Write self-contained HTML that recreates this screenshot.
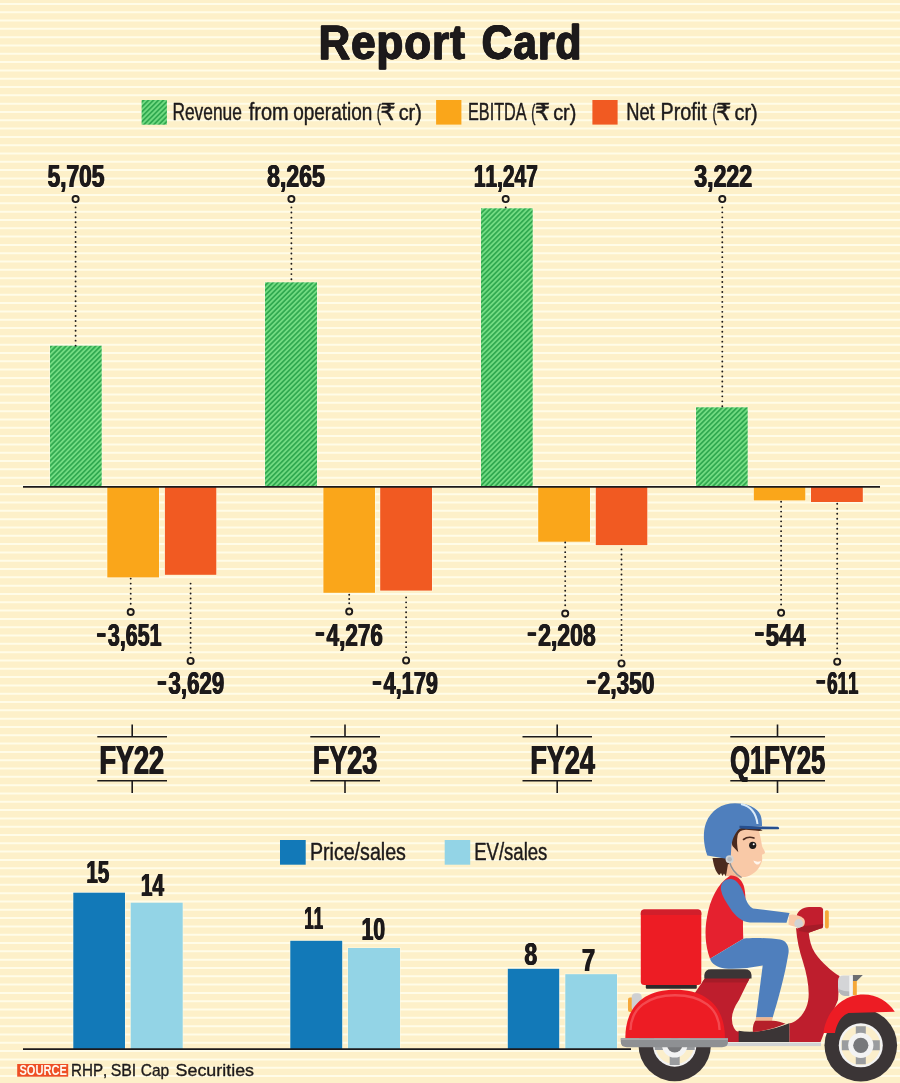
<!DOCTYPE html>
<html lang="en"><head><meta charset="utf-8"><title>Report Card</title>
<style>
html,body{margin:0;padding:0;background:#fdf0c9;}
body{width:900px;height:1083px;overflow:hidden;}
.h{stroke:#fffbe6;stroke-width:1.4;stroke-opacity:.7;paint-order:stroke;}
svg{display:block;font-family:"Liberation Sans",sans-serif;font-weight:bold;font-kerning:none;font-variant-ligatures:none;}
</style></head><body>
<svg width="900" height="1083" viewBox="0 0 900 1083">
<defs>
<pattern id="hatch" width="3.5" height="3.5" patternUnits="userSpaceOnUse" patternTransform="rotate(-45)">
<rect width="3.5" height="3.5" fill="#72db82"/><rect width="3.5" height="1.75" fill="#32aa51"/>
</pattern>
</defs>
<rect width="900" height="1083" fill="#fdf0c9"/>
<path d="M0 3.90H900M0 12.21H900M0 20.52H900M0 28.83H900M0 37.14H900M0 45.45H900M0 53.77H900M0 62.08H900M0 70.39H900M0 78.70H900M0 87.01H900M0 95.32H900M0 103.63H900M0 111.94H900M0 120.25H900M0 128.57H900M0 136.88H900M0 145.19H900M0 153.50H900M0 161.81H900M0 170.12H900M0 178.43H900M0 186.74H900M0 195.05H900M0 203.36H900M0 211.68H900M0 219.99H900M0 228.30H900M0 236.61H900M0 244.92H900M0 253.23H900M0 261.54H900M0 269.85H900M0 278.16H900M0 286.47H900M0 294.79H900M0 303.10H900M0 311.41H900M0 319.72H900M0 328.03H900M0 336.34H900M0 344.65H900M0 352.96H900M0 361.27H900M0 369.58H900M0 377.89H900M0 386.21H900M0 394.52H900M0 402.83H900M0 411.14H900M0 419.45H900M0 427.76H900M0 436.07H900M0 444.38H900M0 452.69H900M0 461.00H900M0 469.32H900M0 477.63H900M0 485.94H900M0 494.25H900M0 502.56H900M0 510.87H900M0 519.18H900M0 527.49H900M0 535.80H900M0 544.11H900M0 552.43H900M0 560.74H900M0 569.05H900M0 577.36H900M0 585.67H900M0 593.98H900M0 602.29H900M0 610.60H900M0 618.91H900M0 627.23H900M0 635.54H900M0 643.85H900M0 652.16H900M0 660.47H900M0 668.78H900M0 677.09H900M0 685.40H900M0 693.71H900M0 702.02H900M0 710.34H900M0 718.65H900M0 726.96H900M0 735.27H900M0 743.58H900M0 751.89H900M0 760.20H900M0 768.51H900M0 776.82H900M0 785.13H900M0 793.45H900M0 801.76H900M0 810.07H900M0 818.38H900M0 826.69H900M0 835.00H900M0 843.31H900M0 851.62H900M0 859.93H900M0 868.24H900M0 876.56H900M0 884.87H900M0 893.18H900M0 901.49H900M0 909.80H900M0 918.11H900M0 926.42H900M0 934.73H900M0 943.04H900M0 951.35H900M0 959.67H900M0 967.98H900M0 976.29H900M0 984.60H900M0 992.91H900M0 1001.22H900M0 1009.53H900M0 1017.84H900M0 1026.15H900M0 1034.46H900M0 1042.78H900M0 1051.09H900M0 1059.40H900M0 1067.71H900M0 1076.02H900M0 1084.33H900" stroke="#fffce8" stroke-width="2" fill="none"/>
<text y="59.4" font-size="47.5" letter-spacing="1.2" fill="#1d1a1b" stroke="#1d1a1b" stroke-width="0.8" stroke-linejoin="round" style="text-shadow:0.5px 0 0 #1d1a1b,-0.5px 0 0 #1d1a1b"><tspan x="318.61" textLength="147.20" lengthAdjust="spacingAndGlyphs">Report</tspan> <tspan x="481.77" textLength="100.59" lengthAdjust="spacingAndGlyphs">Card</tspan></text>
<rect x="141.6" y="100" width="25.3" height="24.7" fill="url(#hatch)"/>
<rect x="436.1" y="100" width="25.3" height="24.6" fill="#faa61a"/>
<rect x="592.4" y="100" width="25.2" height="24.6" fill="#f15a22"/>
<text y="120.2" font-size="23" font-weight="normal" fill="#1d1a1b" stroke="#1d1a1b" stroke-width="0.45" stroke-linejoin="round"><tspan x="172.45" textLength="69.45" lengthAdjust="spacingAndGlyphs">Revenue</tspan> <tspan x="248.71" textLength="39.91" lengthAdjust="spacingAndGlyphs">from</tspan> <tspan x="293.19" textLength="79.16" lengthAdjust="spacingAndGlyphs">operation</tspan> <tspan x="376.65" textLength="4.19" lengthAdjust="spacingAndGlyphs" font-size="21.5">(</tspan><tspan x="380.18" textLength="15.41" lengthAdjust="spacingAndGlyphs" font-size="23.2" font-family="DejaVu Sans, sans-serif">₹</tspan> <tspan x="398.66" textLength="23.16" lengthAdjust="spacingAndGlyphs" font-size="21.5">cr)</tspan></text>
<text y="120.2" font-size="23" font-weight="normal" fill="#1d1a1b" stroke="#1d1a1b" stroke-width="0.45" stroke-linejoin="round"><tspan x="468.03" textLength="58.54" lengthAdjust="spacingAndGlyphs">EBITDA</tspan> <tspan x="531.15" textLength="4.19" lengthAdjust="spacingAndGlyphs" font-size="21.5">(</tspan><tspan x="534.68" textLength="15.41" lengthAdjust="spacingAndGlyphs" font-size="23.2" font-family="DejaVu Sans, sans-serif">₹</tspan> <tspan x="553.16" textLength="23.16" lengthAdjust="spacingAndGlyphs" font-size="21.5">cr)</tspan></text>
<text y="120.2" font-size="23" font-weight="normal" fill="#1d1a1b" stroke="#1d1a1b" stroke-width="0.45" stroke-linejoin="round"><tspan x="626.18" textLength="28.48" lengthAdjust="spacingAndGlyphs">Net</tspan> <tspan x="660.57" textLength="46.08" lengthAdjust="spacingAndGlyphs">Profit</tspan> <tspan x="712.55" textLength="4.19" lengthAdjust="spacingAndGlyphs" font-size="21.5">(</tspan><tspan x="716.08" textLength="15.41" lengthAdjust="spacingAndGlyphs" font-size="23.2" font-family="DejaVu Sans, sans-serif">₹</tspan> <tspan x="734.56" textLength="23.16" lengthAdjust="spacingAndGlyphs" font-size="21.5">cr)</tspan></text>
<rect x="50" y="345.7" width="51.7" height="140.8" fill="url(#hatch)" class="h"/>
<rect x="265" y="282.3" width="52.0" height="204.2" fill="url(#hatch)" class="h"/>
<rect x="481" y="208.3" width="51.7" height="278.2" fill="url(#hatch)" class="h"/>
<rect x="696" y="407.3" width="51.7" height="79.2" fill="url(#hatch)" class="h"/>
<rect x="107.3" y="486.5" width="51.7" height="90.9" fill="#faa61a" class="h"/>
<rect x="323.4" y="486.5" width="51.6" height="106.3" fill="#faa61a" class="h"/>
<rect x="538.2" y="486.5" width="51.8" height="55.2" fill="#faa61a" class="h"/>
<rect x="753.8" y="486.5" width="51.5" height="13.9" fill="#faa61a" class="h"/>
<rect x="164.9" y="486.5" width="51.4" height="88.3" fill="#f15a22" class="h"/>
<rect x="380.2" y="486.5" width="51.8" height="104.1" fill="#f15a22" class="h"/>
<rect x="595.8" y="486.5" width="51.5" height="58.6" fill="#f15a22" class="h"/>
<rect x="811" y="486.5" width="51.8" height="15.5" fill="#f15a22" class="h"/>
<path d="M23 486.8H880" stroke="#1d1a1b" stroke-width="1.8"/>
<path d="M75.6 207.4V345.65" stroke="#1d1a1b" stroke-width="1.9" stroke-linecap="round" stroke-dasharray="0 4.936" fill="none"/>
<circle cx="75.6" cy="199.1" r="3.05" fill="#fdf0c9" stroke="#1d1a1b" stroke-width="1.9"/>
<text x="47.57" y="187.3" font-size="31.8" textLength="56.80" lengthAdjust="spacingAndGlyphs" fill="#1d1a1b" stroke="#1d1a1b" stroke-width="0.2" stroke-linejoin="round" style="text-shadow:0.55px 0 0 #1d1a1b,-0.55px 0 0 #1d1a1b">5,705</text>
<path d="M291.4 207.4V279.25" stroke="#1d1a1b" stroke-width="1.9" stroke-linecap="round" stroke-dasharray="0 5.129" fill="none"/>
<circle cx="291.4" cy="199.1" r="3.05" fill="#fdf0c9" stroke="#1d1a1b" stroke-width="1.9"/>
<text x="267.04" y="187.3" font-size="31.8" textLength="57.83" lengthAdjust="spacingAndGlyphs" fill="#1d1a1b" stroke="#1d1a1b" stroke-width="0.2" stroke-linejoin="round" style="text-shadow:0.55px 0 0 #1d1a1b,-0.55px 0 0 #1d1a1b">8,265</text>
<path d="M505.7 207.4V207.35" stroke="#1d1a1b" stroke-width="1.9" stroke-linecap="round" stroke-dasharray="0 5.000" fill="none"/>
<circle cx="505.7" cy="199.1" r="3.05" fill="#fdf0c9" stroke="#1d1a1b" stroke-width="1.9"/>
<text x="473.81" y="187.3" font-size="31.8" textLength="63.98" lengthAdjust="spacingAndGlyphs" fill="#1d1a1b" stroke="#1d1a1b" stroke-width="0.2" stroke-linejoin="round" style="text-shadow:0.55px 0 0 #1d1a1b,-0.55px 0 0 #1d1a1b">11,247</text>
<path d="M722.3 207.4V406.35" stroke="#1d1a1b" stroke-width="1.9" stroke-linecap="round" stroke-dasharray="0 4.973" fill="none"/>
<circle cx="722.3" cy="199.1" r="3.05" fill="#fdf0c9" stroke="#1d1a1b" stroke-width="1.9"/>
<text x="694.24" y="187.3" font-size="31.8" textLength="57.91" lengthAdjust="spacingAndGlyphs" fill="#1d1a1b" stroke="#1d1a1b" stroke-width="0.2" stroke-linejoin="round" style="text-shadow:0.55px 0 0 #1d1a1b,-0.55px 0 0 #1d1a1b">3,222</text>
<path d="M130.7 603.7V578.55" stroke="#1d1a1b" stroke-width="1.9" stroke-linecap="round" stroke-dasharray="0 5.020" fill="none"/>
<circle cx="130.7" cy="612" r="3.05" fill="#fdf0c9" stroke="#1d1a1b" stroke-width="1.9"/>
<text x="97.40" y="645.8" font-size="31.8" textLength="64.16" lengthAdjust="spacingAndGlyphs" fill="#1d1a1b" stroke="#1d1a1b" stroke-width="0.2" stroke-linejoin="round" style="text-shadow:0.55px 0 0 #1d1a1b,-0.55px 0 0 #1d1a1b"><tspan stroke-width="1.34" stroke-linejoin="miter" font-size="20.81" dy="-5.92">–</tspan><tspan dx="3.9" dy="5.92">3,651</tspan></text>
<path d="M349.2 603.3000000000001V594.75" stroke="#1d1a1b" stroke-width="1.9" stroke-linecap="round" stroke-dasharray="0 4.250" fill="none"/>
<circle cx="349.2" cy="611.6" r="3.05" fill="#fdf0c9" stroke="#1d1a1b" stroke-width="1.9"/>
<text x="316.10" y="645.8" font-size="31.8" textLength="66.75" lengthAdjust="spacingAndGlyphs" fill="#1d1a1b" stroke="#1d1a1b" stroke-width="0.2" stroke-linejoin="round" style="text-shadow:0.55px 0 0 #1d1a1b,-0.55px 0 0 #1d1a1b"><tspan stroke-width="1.48" stroke-linejoin="miter" font-size="19.37" dy="-6.31">–</tspan><tspan dx="4.11" dy="6.31">4,276</tspan></text>
<path d="M565.2 605.2V542.45" stroke="#1d1a1b" stroke-width="1.9" stroke-linecap="round" stroke-dasharray="0 4.823" fill="none"/>
<circle cx="565.2" cy="613.5" r="3.05" fill="#fdf0c9" stroke="#1d1a1b" stroke-width="1.9"/>
<text x="528.15" y="645.8" font-size="31.8" textLength="67.59" lengthAdjust="spacingAndGlyphs" fill="#1d1a1b" stroke="#1d1a1b" stroke-width="0.2" stroke-linejoin="round" style="text-shadow:0.55px 0 0 #1d1a1b,-0.55px 0 0 #1d1a1b"><tspan stroke-width="1.55" stroke-linejoin="miter" font-size="18.66" dy="-6.5">–</tspan><tspan dx="3.48" dy="6.5">2,208</tspan></text>
<path d="M781.1 604.5V501.75" stroke="#1d1a1b" stroke-width="1.9" stroke-linecap="round" stroke-dasharray="0 4.890" fill="none"/>
<circle cx="781.1" cy="612.8" r="3.05" fill="#fdf0c9" stroke="#1d1a1b" stroke-width="1.9"/>
<text x="755.74" y="645.8" font-size="31.8" textLength="49.90" lengthAdjust="spacingAndGlyphs" fill="#1d1a1b" stroke="#1d1a1b" stroke-width="0.2" stroke-linejoin="round" style="text-shadow:0.55px 0 0 #1d1a1b,-0.55px 0 0 #1d1a1b"><tspan stroke-width="1.67" stroke-linejoin="miter" font-size="17.52" dy="-6.8">–</tspan><tspan dx="3.57" dy="6.8">544</tspan></text>
<path d="M190.6 652.6V583.55" stroke="#1d1a1b" stroke-width="1.9" stroke-linecap="round" stroke-dasharray="0 4.929" fill="none"/>
<circle cx="190.6" cy="660.9" r="3.05" fill="#fdf0c9" stroke="#1d1a1b" stroke-width="1.9"/>
<text x="158.09" y="693.8" font-size="31.8" textLength="66.19" lengthAdjust="spacingAndGlyphs" fill="#1d1a1b" stroke="#1d1a1b" stroke-width="0.2" stroke-linejoin="round" style="text-shadow:0.55px 0 0 #1d1a1b,-0.55px 0 0 #1d1a1b"><tspan stroke-width="1.46" stroke-linejoin="miter" font-size="19.59" dy="-6.25">–</tspan><tspan dx="3.87" dy="6.25">3,629</tspan></text>
<path d="M406.1 652.1V597.35" stroke="#1d1a1b" stroke-width="1.9" stroke-linecap="round" stroke-dasharray="0 4.973" fill="none"/>
<circle cx="406.1" cy="660.4" r="3.05" fill="#fdf0c9" stroke="#1d1a1b" stroke-width="1.9"/>
<text x="373.02" y="693.8" font-size="31.8" textLength="64.94" lengthAdjust="spacingAndGlyphs" fill="#1d1a1b" stroke="#1d1a1b" stroke-width="0.2" stroke-linejoin="round" style="text-shadow:0.55px 0 0 #1d1a1b,-0.55px 0 0 #1d1a1b"><tspan stroke-width="1.38" stroke-linejoin="miter" font-size="20.44" dy="-6.02">–</tspan><tspan dx="4.14" dy="6.02">4,179</tspan></text>
<path d="M621.5 655.1V549.35" stroke="#1d1a1b" stroke-width="1.9" stroke-linecap="round" stroke-dasharray="0 5.033" fill="none"/>
<circle cx="621.5" cy="663.4" r="3.05" fill="#fdf0c9" stroke="#1d1a1b" stroke-width="1.9"/>
<text x="587.62" y="693.8" font-size="31.8" textLength="66.85" lengthAdjust="spacingAndGlyphs" fill="#1d1a1b" stroke="#1d1a1b" stroke-width="0.2" stroke-linejoin="round" style="text-shadow:0.55px 0 0 #1d1a1b,-0.55px 0 0 #1d1a1b"><tspan stroke-width="1.51" stroke-linejoin="miter" font-size="19.07" dy="-6.39">–</tspan><tspan dx="3.49" dy="6.39">2,350</tspan></text>
<path d="M837.2 653.4000000000001V503.75" stroke="#1d1a1b" stroke-width="1.9" stroke-linecap="round" stroke-dasharray="0 4.987" fill="none"/>
<circle cx="837.2" cy="661.7" r="3.05" fill="#fdf0c9" stroke="#1d1a1b" stroke-width="1.9"/>
<text x="816.64" y="693.8" font-size="31.8" textLength="41.80" lengthAdjust="spacingAndGlyphs" fill="#1d1a1b" stroke="#1d1a1b" stroke-width="0.2" stroke-linejoin="round" style="text-shadow:0.55px 0 0 #1d1a1b,-0.55px 0 0 #1d1a1b"><tspan stroke-width="0.89" stroke-linejoin="miter" font-size="25.4" dy="-4.69">–</tspan><tspan dx="3.58" dy="4.69">611</tspan></text>
<path d="M97.3 736.8H167M97.3 780.8H167M132.2 724.5V736.7M132.2 780.7V793" stroke="#1d1a1b" stroke-width="1.6" fill="none"/>
<text x="99.49" y="774.1" font-size="41" textLength="64.60" lengthAdjust="spacingAndGlyphs" fill="#1d1a1b" stroke="#1d1a1b" stroke-width="0.2" stroke-linejoin="round" style="text-shadow:0.65px 0 0 #1d1a1b,-0.65px 0 0 #1d1a1b">FY22</text>
<path d="M310.3 736.8H380M310.3 780.8H380M345 724.5V736.7M345 780.7V793" stroke="#1d1a1b" stroke-width="1.6" fill="none"/>
<text x="312.89" y="774.1" font-size="41" textLength="64.29" lengthAdjust="spacingAndGlyphs" fill="#1d1a1b" stroke="#1d1a1b" stroke-width="0.2" stroke-linejoin="round" style="text-shadow:0.65px 0 0 #1d1a1b,-0.65px 0 0 #1d1a1b">FY23</text>
<path d="M522.5 736.8H592M522.5 780.8H592M557.2 724.5V736.7M557.2 780.7V793" stroke="#1d1a1b" stroke-width="1.6" fill="none"/>
<text x="530.39" y="774.1" font-size="41" textLength="64.56" lengthAdjust="spacingAndGlyphs" fill="#1d1a1b" stroke="#1d1a1b" stroke-width="0.2" stroke-linejoin="round" style="text-shadow:0.65px 0 0 #1d1a1b,-0.65px 0 0 #1d1a1b">FY24</text>
<path d="M730.3 736.8H825M730.3 780.8H825M777.5 724.5V736.7M777.5 780.7V793" stroke="#1d1a1b" stroke-width="1.6" fill="none"/>
<text x="730.22" y="774.1" font-size="41" textLength="95.02" lengthAdjust="spacingAndGlyphs" fill="#1d1a1b" stroke="#1d1a1b" stroke-width="0.2" stroke-linejoin="round" style="text-shadow:0.65px 0 0 #1d1a1b,-0.65px 0 0 #1d1a1b">Q1FY25</text>
<rect x="280" y="840" width="25.7" height="24.7" fill="#1279b8"/>
<rect x="444.7" y="840" width="25.5" height="24.7" fill="#93d4e6"/>
<text x="309.88" y="860.2" font-size="23" font-weight="normal" textLength="96.04" lengthAdjust="spacingAndGlyphs" fill="#1d1a1b" stroke="#1d1a1b" stroke-width="0.45" stroke-linejoin="round">Price/sales</text>
<text x="474.16" y="860.2" font-size="23" font-weight="normal" textLength="73.23" lengthAdjust="spacingAndGlyphs" fill="#1d1a1b" stroke="#1d1a1b" stroke-width="0.45" stroke-linejoin="round">EV/sales</text>
<rect x="73.3" y="892.7" width="51.7" height="156.3" fill="#1279b8" class="h"/>
<rect x="130.7" y="902.7" width="52.0" height="146.3" fill="#93d4e6" class="h"/>
<rect x="290.3" y="940.8" width="51.9" height="108.2" fill="#1279b8" class="h"/>
<rect x="348" y="948" width="52.0" height="101.0" fill="#93d4e6" class="h"/>
<rect x="507.8" y="968.8" width="51.4" height="80.2" fill="#1279b8" class="h"/>
<rect x="565.3" y="974.2" width="51.7" height="74.8" fill="#93d4e6" class="h"/>
<path d="M23 1049.2H631" stroke="#1d1a1b" stroke-width="1.8"/>
<text x="86.43" y="882.7" font-size="31.8" textLength="22.72" lengthAdjust="spacingAndGlyphs" fill="#1d1a1b" stroke="#1d1a1b" stroke-width="0.2" stroke-linejoin="round" style="text-shadow:0.55px 0 0 #1d1a1b,-0.55px 0 0 #1d1a1b">15</text>
<text x="140.81" y="896" font-size="31.8" textLength="23.17" lengthAdjust="spacingAndGlyphs" fill="#1d1a1b" stroke="#1d1a1b" stroke-width="0.2" stroke-linejoin="round" style="text-shadow:0.55px 0 0 #1d1a1b,-0.55px 0 0 #1d1a1b">14</text>
<text x="304.28" y="929.2" font-size="31.8" textLength="18.85" lengthAdjust="spacingAndGlyphs" fill="#1d1a1b" stroke="#1d1a1b" stroke-width="0.2" stroke-linejoin="round" style="text-shadow:0.55px 0 0 #1d1a1b,-0.55px 0 0 #1d1a1b">11</text>
<text x="361.60" y="939.7" font-size="31.8" textLength="23.54" lengthAdjust="spacingAndGlyphs" fill="#1d1a1b" stroke="#1d1a1b" stroke-width="0.2" stroke-linejoin="round" style="text-shadow:0.55px 0 0 #1d1a1b,-0.55px 0 0 #1d1a1b">10</text>
<text x="524.44" y="965" font-size="31.8" textLength="12.80" lengthAdjust="spacingAndGlyphs" fill="#1d1a1b" stroke="#1d1a1b" stroke-width="0.2" stroke-linejoin="round" style="text-shadow:0.55px 0 0 #1d1a1b,-0.55px 0 0 #1d1a1b">8</text>
<text x="581.97" y="970.8" font-size="31.8" textLength="13.08" lengthAdjust="spacingAndGlyphs" fill="#1d1a1b" stroke="#1d1a1b" stroke-width="0.2" stroke-linejoin="round" style="text-shadow:0.55px 0 0 #1d1a1b,-0.55px 0 0 #1d1a1b">7</text>
<rect x="17.2" y="1064" width="51" height="12.7" fill="#ee5025"/>
<text x="19.48" y="1074.9" font-size="13.8" textLength="47.35" lengthAdjust="spacingAndGlyphs" fill="#fffaf0">SOURCE</text>
<text y="1075.6" font-size="17.2" font-weight="normal" fill="#1d1a1b" stroke="#1d1a1b" stroke-width="0.35" stroke-linejoin="round"><tspan x="71.01" textLength="36.30" lengthAdjust="spacingAndGlyphs">RHP,</tspan> <tspan x="110.64" textLength="25.67" lengthAdjust="spacingAndGlyphs">SBI</tspan> <tspan x="140.67" textLength="28.53" lengthAdjust="spacingAndGlyphs">Cap</tspan> <tspan x="175.57" textLength="78.49" lengthAdjust="spacingAndGlyphs">Securities</tspan></text>
<g id="scooter">
<!-- wheels -->
<g id="rear-wheel">
<circle cx="674.7" cy="1045" r="36.2" fill="#3b3536"/>
<circle cx="674.7" cy="1045" r="21.7" fill="#f3f3f3"/>
<circle cx="674.7" cy="1045" r="19.3" fill="#fbeecb"/>
<path d="M669.7 1045v20h10v-20zM654.7 1040v10h40v-10z" fill="#9a9c9f"/>
<circle cx="674.7" cy="1045" r="12.6" fill="#f3f3f3"/>
<circle cx="674.7" cy="1045" r="7.6" fill="#77787b"/>
</g>
<g id="front-wheel">
<circle cx="860.8" cy="1045.3" r="36.3" fill="#3b3536"/>
<circle cx="860.8" cy="1045.3" r="22" fill="#f3f3f3"/>
<circle cx="860.8" cy="1045.3" r="19.6" fill="#fbeecb"/>
<path d="M855.8 1026.3h10v38h-10zM841.8 1040.3h38v10h-38z" fill="#9a9c9f"/>
<circle cx="860.8" cy="1045.3" r="12.6" fill="#f3f3f3"/>
<circle cx="860.8" cy="1045.3" r="7.6" fill="#77787b"/>
</g>
<!-- tail light -->
<rect x="628" y="997.5" width="6" height="14.5" rx="2" fill="#f5a83a"/>
<rect x="631.7" y="993.3" width="10" height="18" rx="4" fill="#cfd0d2"/>
<!-- gray under strip -->
<rect x="726" y="1042.5" width="95" height="3.6" fill="#d1d3d4"/>
<!-- body -->
<path d="M705.5 977.5H750L739 1000Q728 1016 734 1028Q737 1033 739 1031V1042H690V1000Z" fill="#be1e2d"/>
<path d="M705.5 977.5H750L747.6 982.5H702Z" fill="#a51c28"/>
<!-- front column -->
<path d="M796 928C797 940 799 950 803 962C806.5 973 808.7 984 808.7 994C808.7 1004 805 1013 798 1019C794 1022.5 791 1023.5 789.3 1023.3V1042H820.5L824 1033L838 1000L839.5 976C832 971.5 822 963 815 953C811 947 809.5 940 808.7 932.5Z" fill="#be1e2d"/>
<!-- handlebar head -->
<path d="M796.5 916C798 910.5 803 907 809 907H819.5Q823.3 907 823.3 911V925Q823.3 928 820.5 928.6L808.7 932.8L798 931Z" fill="#c21e2e"/>
<path d="M800 926.5L823.3 924V925.5Q823.3 928 820.5 928.6L808.7 932.8L799 931Z" fill="#a51c28"/>
<rect x="823.3" y="910" width="2" height="18.4" fill="#f7f3ea"/>
<rect x="824.9" y="910.2" width="3.9" height="18.2" rx="1.6" fill="#f5a83a"/>
<!-- front lamp -->
<path d="M852.7 975H862.8L856.8 981H852.7Z" fill="#6d6e71"/>
<rect x="852.5" y="981" width="4.3" height="14" fill="#f5a83a"/>
<path d="M843.5 975.5H852.7V996H845Q838 995 838 987V981Q838 975.5 843.5 975.5Z" fill="#d4d5d7"/>
<path d="M838.3 989Q845 992 852.7 991.5V996H845Q839 995 838.3 989Z" fill="#b5b7ba"/>
<rect x="849.3" y="975.5" width="3.4" height="20.5" fill="#f4f4f4"/>
<!-- front fender -->
<path d="M823.3 1033C826 1012 842 994.5 863.5 994.5C877 994.5 888 1001.5 894.8 1011.8L848.5 1013C841 1016 836.5 1024 835 1033Z" fill="#ed1c24"/>
<!-- floor board -->
<path d="M738.7 1030.7C755 1034 775 1029 789.3 1023.3V1042H738.7Z" fill="#3b3536"/>
<!-- rear dome -->
<path d="M625.3 1038.5C625.3 1006 644 989.7 675 989.7C707 989.7 725 1007 725 1038.5Z" fill="#ed1c24"/>
<path d="M630.5 1030C631 1008 648 995.3 675 995.3C702 995.3 719 1008 719.6 1030" fill="none" stroke="#f5585e" stroke-width="2.4" stroke-opacity=".75"/>
<!-- bumper -->
<path d="M620.8 1038.3H728V1042Q728 1047.2 722 1047.2H627Q620.8 1047.2 620.8 1042Z" fill="#8e9093"/>
<path d="M620.8 1038.3H728V1040H620.8Z" fill="#a6a8ab"/>
<!-- box -->
<rect x="645.8" y="984" width="51" height="4.8" rx="1" fill="#2f2a2b"/>
<rect x="640.8" y="909.5" width="60.5" height="75.5" rx="3.5" fill="#ed1c24"/>
<path d="M640.8 915V913Q640.8 909.5 644.3 909.5H697.8Q701.3 909.5 701.3 913V915Z" fill="#d21f2b"/>
<!-- seat -->
<path d="M704.3 978.5V975Q705 969.3 711 969.3H745Q751 969.3 751.5 975V978.5Z" fill="#3b3536"/>
</g>
<g id="rider">
<!-- back hair -->
<path d="M712.5 858C714 868 717 874 719.5 875L721 873L722.5 876L724 873.5L726 876.5L729 868L730 858Z" fill="#4b2a1e"/>
<!-- neck -->
<path d="M728 864L726 876L742 878L741 868Z" fill="#f3b995"/>
<!-- face -->
<path d="M733 828H758C760 834 761.5 842 762 846C763 849 765 851 765 852.5C765 854 762.5 854 762 855C762 857 762.5 859 762 861C761 864 760 866 758 869C754 874 748 877.5 742 877C735 876 730 870 729 862Z" fill="#f9c9a7"/>
<!-- mouth -->
<path d="M753.3 860.6Q757.5 862.6 761 861Q759.8 864.8 756.5 864.6Q754.2 863.6 753.3 860.6Z" fill="#fff6ee"/>
<!-- eye -->
<circle cx="752.7" cy="845.3" r="3.6" fill="#1d1a1b"/>
<circle cx="753.7" cy="844.3" r="1" fill="#fff"/>
<path d="M743.5 839.5Q748 836 754 838" fill="none" stroke="#4b2a1e" stroke-width="1.6" stroke-linecap="round"/>
<!-- side hair -->
<path d="M746 827.5C741 827.5 736 829 733 832C731 836 731.3 842 732.5 846L738.3 852.3C737 846 736.6 840 737.6 835.5C738.6 832 741 830 746 829.8L755 830.6Q759.5 831.4 762.6 830.6L758 827.5Z" fill="#4b2a1e"/>
<!-- chin strap -->
<path d="M729.6 862Q732 872 741.5 877.5" fill="none" stroke="#8e9093" stroke-width="1.4"/>
<!-- helmet -->
<path d="M707.3 855.5C703.5 845 702.5 832 706 823C711 810 722 803.3 735 803.3C748 803.3 757.5 808 760.5 815C762 819 762 823 762 826L741 827.5C736 831 732.5 838 731.5 845C731 850 731 855 730.5 859.5Z" fill="#4f7fbd"/>
<path d="M741 804C750 806 756 812 757.5 824" fill="none" stroke="#dcecf9" stroke-width="2"/>
<path d="M739.5 825.8L778 826.8Q780 828 778.5 829.3L760 829.3Q748 829 739.5 828.5Z" fill="#264f8f"/>
<circle cx="729.6" cy="859.3" r="4" fill="#d1d3d4"/>
<circle cx="729.6" cy="859.3" r="2.3" fill="#b5b7ba"/>
<!-- vest -->
<path d="M730 875.7C736 875 741 879 743.5 885C746 893 746 903 744 912C742.5 920 743 930 743.3 938.7L710 958.7C705 945 704.5 930 707 917C710 900 717 884 730 875.7Z" fill="#e5212f"/>
<!-- thigh + leg -->
<path d="M710 958.7L743.3 938.7C752 937.5 770 938 780 939.5C786 940.5 789.5 946 788.5 953C785 975 778 1000 772.7 1017.5H756L762.7 965.5C750 968 735 969.5 725 968.5C717 967.5 711.5 963.5 710 958.7Z" fill="#4f7fbd"/>
<!-- ankle -->
<path d="M756 1017.3H772.7L772 1021H755.5Z" fill="#eeb48f"/>
<!-- shoe -->
<path d="M755.3 1020.7H772.5C777 1021 782 1022 785.5 1023.8C775 1028 765 1031 753 1032C752.3 1028 753.5 1023 755.3 1020.7Z" fill="#b5202a"/>
<!-- hand -->
<path d="M789 915C793 913.5 799 915 803 918C805.5 920 805.5 924 803 926.5C799 928 792 926.5 788.5 924.5Z" fill="#f9c9a7"/>
<circle cx="798.7" cy="923.5" r="4.4" fill="#d1d3d4"/>
<!-- sleeve -->
<path d="M721 890C720 882 726 878.5 731 879C737 879.5 742 887 745 897C747 903 750 907 753 908.5L789.5 913L786.5 922.8L750 922.5C742 922 735 916 730 908C726 902 722 896 721 890Z" fill="#4f7fbd"/>
</g>

</svg>
</body></html>
